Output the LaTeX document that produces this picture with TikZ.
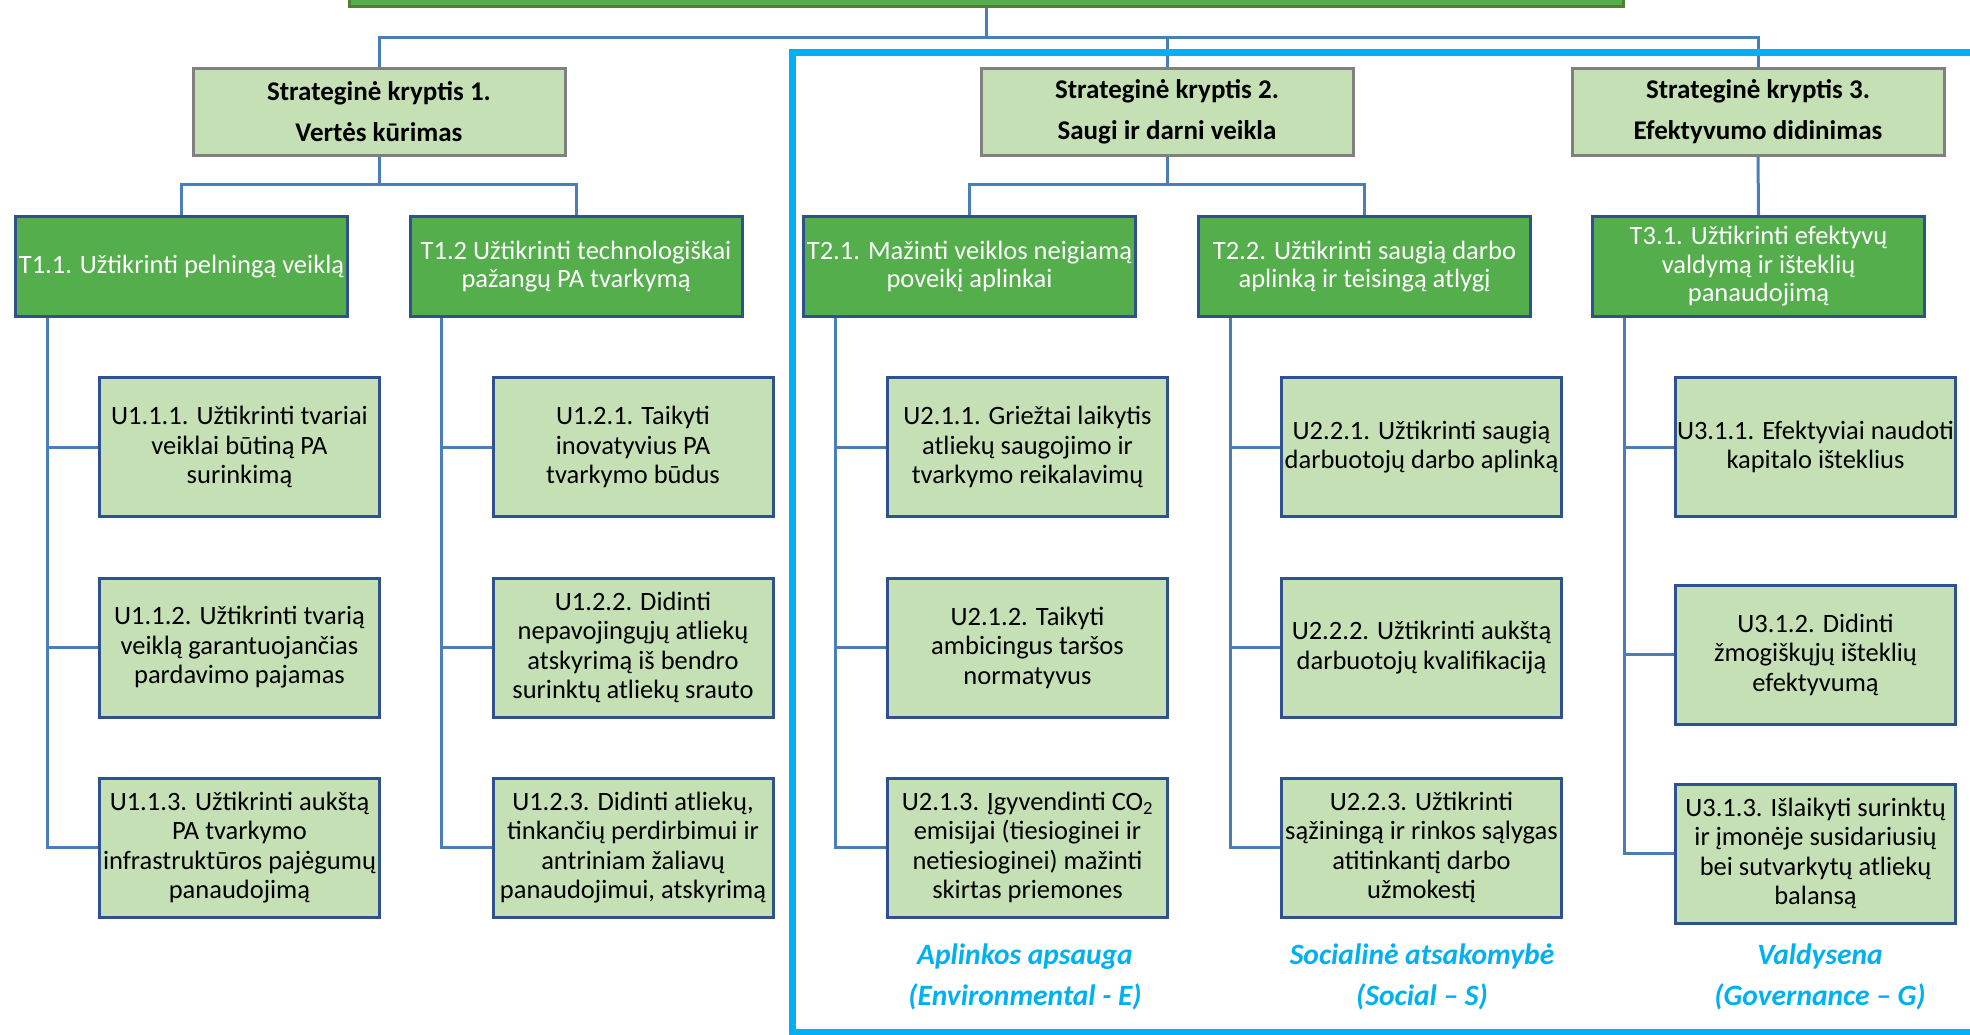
\documentclass[tikz,border=0pt]{standalone}
\usepackage{fontspec}
\setmainfont{Carlito}
\usetikzlibrary{positioning}
\definecolor{taskgreen}{RGB}{84,174,76}
\definecolor{palegreen}{RGB}{197,224,180}
\definecolor{boxblue}{RGB}{47,82,143}
\definecolor{linkblue}{RGB}{74,126,187}
\definecolor{esgblue}{RGB}{0,176,240}
\definecolor{topgreen}{RGB}{80,126,50}
\tikzset{top box/.style={rectangle,fill=taskgreen,draw=topgreen,line width=3pt,minimum width=1274pt,minimum height=38pt},
         dir box/.style={rectangle,fill=palegreen,draw=black!50,line width=3pt,minimum width=372pt,minimum height=87pt,inner sep=0pt,align=center,font=\fontsize{27}{41}\selectfont\bfseries},
         task box/.style={rectangle,fill=taskgreen,draw=boxblue,line width=3pt,minimum width=332pt,minimum height=100pt,inner sep=0pt,align=center,text=white,font=\fontsize{26.5}{28.5}\selectfont},
         goal box/.style={rectangle,fill=palegreen,draw=boxblue,line width=3pt,minimum width=280pt,minimum height=139pt,inner sep=0pt,align=center,font=\fontsize{26.5}{29.5}\selectfont},
         esg label/.style={rectangle,draw=none,fill=none,align=center,text=esgblue,font=\fontsize{29.5}{41}\selectfont\bfseries\itshape},
         tree edge/.style={draw=linkblue,line width=3pt},
}
\begin{document}
\begin{tikzpicture}[x=1pt,y=-1pt]

\useasboundingbox (0,0) rectangle (1970,1035);
\clip (0,0) rectangle (1970,1035);
% \draw[help lines,step=100] (0,0) grid (1970,1035);

\node[top box] (top) at (986.5,-12) {};

\node[dir box] (s1) at (379,112) {Strateginė kryptis 1.\\ Vertės kūrimas};
\node[dir box] (s2) at (1167,112) {Strateginė kryptis 2.\\ Saugi ir darni veikla};
\node[dir box] (s3) at (1758,112) {Strateginė kryptis 3.\\ Efektyvumo didinimas};

\node[task box] (t11) at (181.5,266.5) {T1.1. Užtikrinti pelningą veiklą};
\node[task box] (t12) at (576,266.5) {T1.2 Užtikrinti technologiškai\\ pažangų PA tvarkymą};
\node[task box] (t21) at (969.5,266.5) {T2.1. Mažinti veiklos neigiamą\\ poveikį aplinkai};
\node[task box] (t22) at (1364.5,266.5) {T2.2. Užtikrinti saugią darbo\\ aplinką ir teisingą atlygį};
\node[task box] (t31) at (1758.5,266.5) {T3.1. Užtikrinti efektyvų\\ valdymą ir išteklių\\ panaudojimą};

\node[goal box] (u111) at (239.5,447) {U1.1.1. Užtikrinti tvariai\\ veiklai būtiną PA\\ surinkimą};
\node[goal box] (u112) at (239.5,647.5) {U1.1.2. Užtikrinti tvarią\\ veiklą garantuojančias\\ pardavimo pajamas};
\node[goal box] (u113) at (239.5,847.5) {U1.1.3. Užtikrinti aukštą\\ PA tvarkymo\\ infrastruktūros pajėgumų\\ panaudojimą};

\node[goal box] (u121) at (633,447) {U1.2.1. Taikyti\\ inovatyvius PA\\ tvarkymo būdus};
\node[goal box] (u122) at (633,647.5) {U1.2.2. Didinti\\ nepavojingųjų atliekų\\ atskyrimą iš bendro\\ surinktų atliekų srauto};
\node[goal box] (u123) at (633,847.5) {U1.2.3. Didinti atliekų,\\ tinkančių perdirbimui ir\\ antriniam žaliavų\\ panaudojimui, atskyrimą};

\node[goal box] (u211) at (1027.5,447) {U2.1.1. Griežtai laikytis\\ atliekų saugojimo ir\\ tvarkymo reikalavimų};
\node[goal box] (u212) at (1027.5,647.5) {U2.1.2. Taikyti\\ ambicingus taršos\\ normatyvus};
\node[goal box] (u213) at (1027.5,847.5) {U2.1.3. Įgyvendinti CO\textsubscript{2}\\ emisijai (tiesioginei ir\\ netiesioginei) mažinti\\ skirtas priemones};

\node[goal box] (u221) at (1421.5,447) {U2.2.1. Užtikrinti saugią\\ darbuotojų darbo aplinką};
\node[goal box] (u222) at (1421.5,647.5) {U2.2.2. Užtikrinti aukštą\\ darbuotojų kvalifikaciją};
\node[goal box] (u223) at (1421.5,847.5) {U2.2.3. Užtikrinti\\ sąžiningą ir rinkos sąlygas\\ atitinkantį darbo\\ užmokestį};

\node[goal box] (u311) at (1815.5,447) {U3.1.1. Efektyviai naudoti\\ kapitalo išteklius};
\node[goal box] (u312) at (1815.5,654.5) {U3.1.2. Didinti\\ žmogiškųjų išteklių\\ efektyvumą};
\node[goal box] (u313) at (1815.5,853.5) {U3.1.3. Išlaikyti surinktų\\ ir įmonėje susidariusių\\ bei sutvarkytų atliekų\\ balansą};

\node[esg label] (env) at (1025,977) {Aplinkos apsauga\\ (Environmental - E)};
\node[esg label] (soc) at (1422,977) {Socialinė atsakomybė\\ (Social – S)};
\node[esg label] (gov) at (1820,977) {Valdysena\\ (Governance – G)};

\draw[tree edge] (top.south) -- ++(0,29) coordinate (hub);
\draw[tree edge] (hub) -| (s1.north);
\draw[tree edge] (hub) -| (s2.north);
\draw[tree edge] (hub) -| (s3.north);

\draw[tree edge] (s1.south) -- ++(0,28) -| (t11.north);
\draw[tree edge] (s1.south) -- ++(0,28) -| (t12.north);
\draw[tree edge] (s2.south) -- ++(0,28) -| (t21.north);
\draw[tree edge] (s2.south) -- ++(0,28) -| (t22.north);
\draw[tree edge] (s3.south) -- (t31.north);

\foreach \tn/\gn in {t11/u11,t12/u12,t21/u21,t22/u22,t31/u31}{
  \draw[tree edge] ([xshift=33pt]\tn.south west) |- (\gn3.west);
  \draw[tree edge] ([xshift=33pt]\tn.south west) |- (\gn2.west);
  \draw[tree edge] ([xshift=33pt]\tn.south west) |- (\gn1.west);
}

\draw[esgblue,line width=7pt] (1990,53) -| (792,1032) -- (1990,1032);
\end{tikzpicture}
\end{document}
